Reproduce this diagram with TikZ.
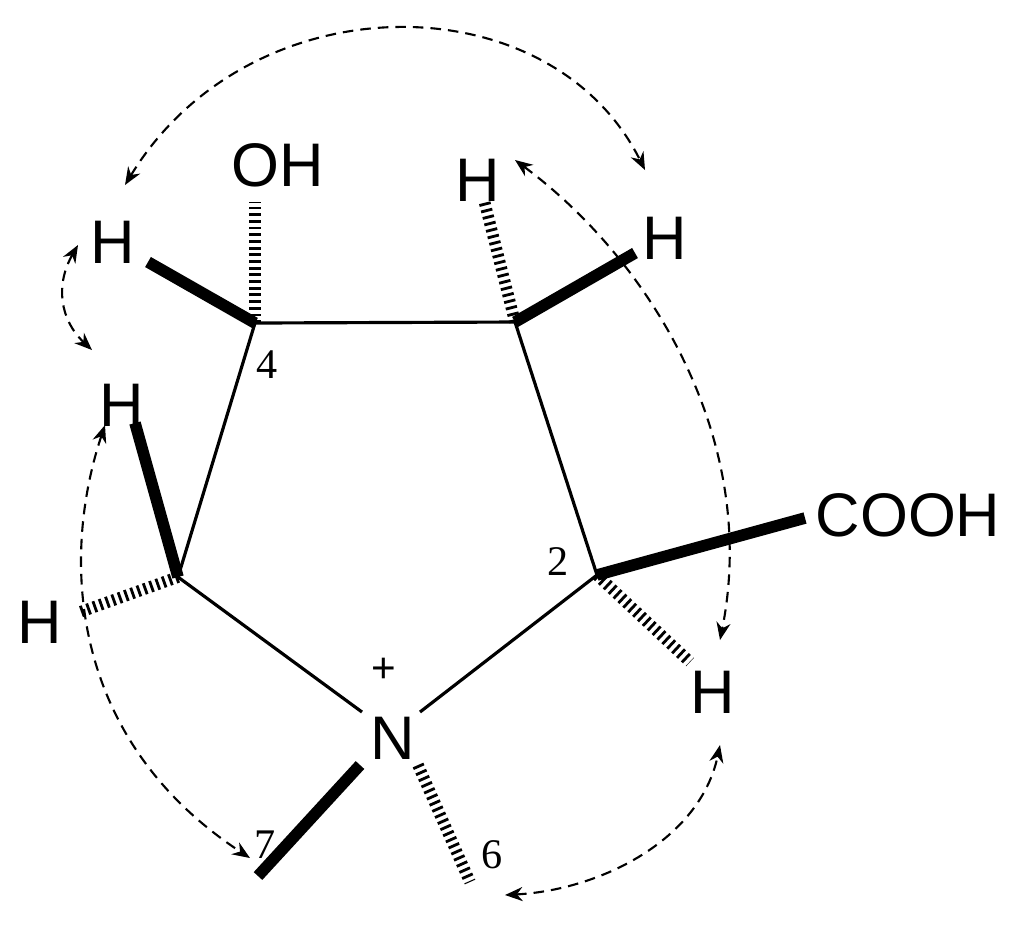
\documentclass[tikz,border=0pt]{standalone}
\usepackage{fontspec}
\setmainfont{Liberation Sans}
\newfontfamily\serifnum{Liberation Serif}
\usetikzlibrary{decorations.markings,arrows.meta}
\begin{document}
\begin{tikzpicture}[x=0.01cm,y=-0.01cm,
 atom/.style={font=\fontsize{17.5}{18}\selectfont,inner sep=0pt},
 num/.style={font=\serifnum\fontsize{12}{12}\selectfont,inner sep=0pt},
 bond/.style={line width=0.9pt},
 bold/.style={line width=3.3pt},
 hash/.style={line width=3.3pt,dash pattern=on 0.8pt off 1.1pt},
 noe/.style={dashed,dash pattern=on 3pt off 2pt,line width=0.6pt,{Stealth[length=5pt,width=4pt]}-{Stealth[length=5pt,width=4pt]}}]
\useasboundingbox (0,0) rectangle (1028,929);
\coordinate (c4) at (255,323);
\coordinate (c3) at (515,322);
\coordinate (c2) at (597,575);
\coordinate (c5) at (178,577);
\node[atom] (n) at (393,738) {N};
\node[atom,font=\fontsize{12}{12}\selectfont] (plus) at (384,670) {+};
\node[atom] (oh) at (278,165) {OH};
\node[atom] (h4) at (113,242) {H};
\node[atom] (h3a) at (478,180) {H};
\node[atom] (h3b) at (665,238) {H};
\node[atom] (cooh) at (908,515) {COOH};
\node[atom] (h2) at (713,692) {H};
\node[atom] (h5a) at (122,405) {H};
\node[atom] (h5b) at (40,622) {H};
\node[num] (l4) at (267,365) {4};
\node[num] (l2) at (558,562) {2};
\node[num] (l7) at (265,845) {7};
\node[num] (l6) at (492,855) {6};
\coordinate (me7) at (258,876);
\coordinate (me6) at (470,882);
% ring
\draw[bond] (c4) -- (c3) -- (c2) -- (420,712);
\draw[bond] (c4) -- (c5) -- (362,712);
% substituents
\draw[hash] (c4) -- (255,202);
\draw[bold] (c4) -- (148,262);
\draw[hash] (c3) -- (484,200);
\draw[bold] (c3) -- (635,253);
\draw[bold] (c2) -- (805,518);
\draw[hash] (c2) -- (690,662);
\draw[bold] (c5) -- (135,423);
\draw[hash] (c5) -- (80,612);
\draw[bold] (360,765) -- (me7);
\draw[hash] (418,765) -- (me6);
% NOE arrows
\draw[noe] (125,185) .. controls (250,-20) and (550,-20) .. (645,170);
\draw[noe] (78,245) .. controls (55,285) and (60,320) .. (92,350);
\draw[noe] (105,425) .. controls (60,560) and (70,740) .. (250,858);
\draw[noe] (515,160) .. controls (650,260) and (760,440) .. (720,640);
\draw[noe] (505,895) .. controls (600,890) and (700,840) .. (720,745);
\end{tikzpicture}
\end{document}
